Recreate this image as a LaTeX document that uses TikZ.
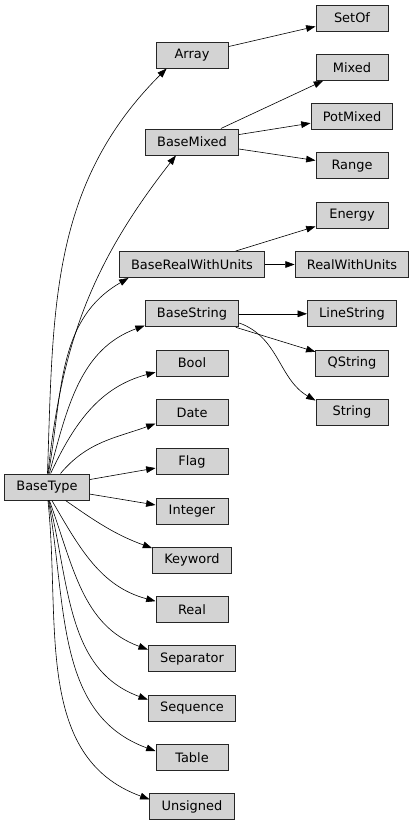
\documentclass[tikz,border=0pt]{standalone}
\usepackage{fontspec}
\setmainfont{DejaVu Sans}
\usetikzlibrary{arrows.meta}
\definecolor{boxgray}{HTML}{D3D3D3}
\tikzset{
  cls/.style={draw=black!85, fill=boxgray, line width=0.75pt, minimum width=54pt, minimum height=19.5pt, inner xsep=8.8pt, inner ysep=0pt, font=\fontsize{9.7}{11}\selectfont},
  inh/.style={-{Triangle[length=7pt,width=5pt]}, line width=0.45pt}
}
\begin{document}
\begin{tikzpicture}[x=0.75pt, y=0.75pt]
\useasboundingbox (0,0) rectangle (415,-825);
\node[cls] (basetype) at (47,-487) {BaseType};
\node[cls] (array) at (192,-55) {Array};
\node[cls] (basemixed) at (192,-142) {BaseMixed};
\node[cls] (baserealwithunits) at (192,-264.5) {BaseRealWithUnits};
\node[cls] (basestring) at (192,-313.8) {BaseString};
\node[cls] (bool) at (192,-363.1) {Bool};
\node[cls] (date) at (192,-412.4) {Date};
\node[cls] (flag) at (192,-461.7) {Flag};
\node[cls] (integer) at (192,-511) {Integer};
\node[cls] (keyword) at (192,-560.3) {Keyword};
\node[cls] (real) at (192,-609.6) {Real};
\node[cls] (separator) at (192,-658.9) {Separator};
\node[cls] (sequence) at (192,-708.2) {Sequence};
\node[cls] (table) at (192,-757.5) {Table};
\node[cls] (unsigned) at (192,-806.8) {Unsigned};
\node[cls] (setof) at (352,-18) {SetOf};
\node[cls] (mixed) at (352,-67.3) {Mixed};
\node[cls] (potmixed) at (352,-116.6) {PotMixed};
\node[cls] (range) at (352,-165.9) {Range};
\node[cls] (energy) at (352,-215.2) {Energy};
\node[cls] (realwithunits) at (352,-264.5) {RealWithUnits};
\node[cls] (linestring) at (352,-313.8) {LineString};
\node[cls] (qstring) at (352,-363.1) {QString};
\node[cls] (string) at (352,-412.4) {String};
\draw[inh] (basetype.88) to[out=88, in=-135] (array.-152);
\draw[inh] (basetype.86) to[out=84, in=-128] (basemixed.-140);
\draw[inh] (basetype.84) to[out=80, in=-150] (baserealwithunits.-168);
\draw[inh] (basetype.80) to[out=75, in=-160] (basestring.-166);
\draw[inh] (basetype.75) to[out=65, in=-165] (bool.-166);
\draw[inh] (basetype.45) to[out=50, in=-160] (date.-163);
\draw[inh] (basetype) -- (flag);
\draw[inh] (basetype) -- (integer);
\draw[inh] (basetype.-36) to[out=-35, in=160] (keyword.163);
\draw[inh] (basetype.-70) to[out=-60, in=165] (real.167);
\draw[inh] (basetype.-80) to[out=-70, in=160] (separator.168);
\draw[inh] (basetype.-82) to[out=-76, in=160] (sequence.169);
\draw[inh] (basetype.-84) to[out=-80, in=160] (table.170);
\draw[inh] (basetype.-86) to[out=-84, in=160] (unsigned.170);
\draw[inh] (array) -- (setof);
\draw[inh] (basemixed) -- (mixed);
\draw[inh] (basemixed) -- (potmixed);
\draw[inh] (basemixed) -- (range);
\draw[inh] (baserealwithunits) -- (energy);
\draw[inh] (baserealwithunits) -- (realwithunits);
\draw[inh] (basestring) -- (linestring);
\draw[inh] (basestring) -- (qstring);
\draw[inh] (basestring.-11) to[out=-20, in=150] (string.162);
\end{tikzpicture}
\end{document}
